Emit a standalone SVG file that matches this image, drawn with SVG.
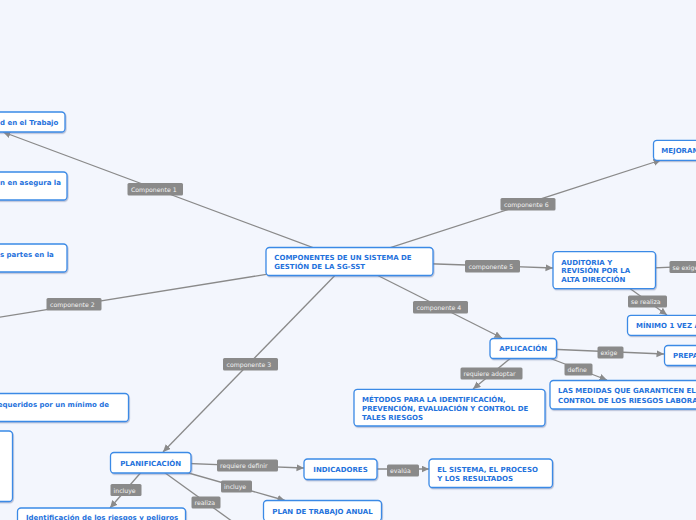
<svg xmlns="http://www.w3.org/2000/svg" width="696" height="520" viewBox="0 0 696 520">
<defs>
<marker id="ah" markerUnits="userSpaceOnUse" markerWidth="8" markerHeight="8" refX="7.5" refY="3.5" orient="auto">
<path d="M0,0 L7.5,3.5 L0,7 z" fill="#8a8a8a"/>
</marker>
<filter id="sh" x="-10%" y="-20%" width="120%" height="150%">
<feDropShadow dx="0.8" dy="1.2" stdDeviation="0.6" flood-color="#6b7fa8" flood-opacity="0.45"/>
</filter>
</defs>
<style>
.bg{fill:#f3f6fd}
.ln{stroke:#8a8a8a;stroke-width:1.3;fill:none}
.ar{marker-end:url(#ah)}
.lb{fill:#8a8a8a}
.lt{font-family:"DejaVu Sans",Verdana,sans-serif;font-size:6.2px;fill:#f2f2f2}
.bx{fill:#ffffff;stroke:#3a8ae6;stroke-width:1.3;filter:url(#sh)}
.tx{font-family:"DejaVu Sans",Verdana,sans-serif;font-size:7px;font-weight:bold;fill:#1f72dc}
</style>
<rect class="bg" x="0" y="0" width="696" height="520"/>
<g id="connectors">
<line class="ln ar" x1="349" y1="261" x2="3" y2="132"/>
<line class="ln" x1="349" y1="261" x2="-5" y2="318"/>
<line class="ln ar" x1="349" y1="261" x2="163" y2="452"/>
<line class="ln ar" x1="349" y1="261" x2="502" y2="338"/>
<line class="ln ar" x1="349" y1="261" x2="553" y2="268"/>
<line class="ln ar" x1="349" y1="261" x2="661" y2="160"/>
<line class="ln" x1="604" y1="270" x2="700" y2="266"/>
<line class="ln ar" x1="604" y1="270" x2="667" y2="315"/>
<line class="ln ar" x1="523" y1="348" x2="664" y2="354"/>
<line class="ln ar" x1="523" y1="348" x2="607" y2="380"/>
<line class="ln ar" x1="523" y1="348" x2="473" y2="389"/>
<line class="ln ar" x1="150" y1="462" x2="304" y2="468"/>
<line class="ln ar" x1="150" y1="462" x2="285" y2="500.5"/>
<line class="ln ar" x1="150" y1="462" x2="110" y2="508"/>
<line class="ln" x1="150" y1="462" x2="240" y2="527"/>
<line class="ln ar" x1="340" y1="469" x2="429" y2="469"/>
<rect class="lb" x="127.5" y="183" width="55.5" height="12.5" rx="1.5"/>
<text class="lt" x="131" y="191.7">Componente 1</text>
<rect class="lb" x="46.5" y="298" width="55" height="12.5" rx="1.5"/>
<text class="lt" x="50" y="306.7">componente 2</text>
<rect class="lb" x="223" y="358" width="55" height="12.5" rx="1.5"/>
<text class="lt" x="226.5" y="366.7">componente 3</text>
<rect class="lb" x="413" y="301" width="55" height="12.5" rx="1.5"/>
<text class="lt" x="416.5" y="309.7">componente 4</text>
<rect class="lb" x="465" y="260" width="55" height="12.5" rx="1.5"/>
<text class="lt" x="468.5" y="268.7">componente 5</text>
<rect class="lb" x="500.5" y="198" width="55" height="12.5" rx="1.5"/>
<text class="lt" x="504" y="206.7">componente 6</text>
<rect class="lb" x="669.5" y="261" width="40" height="12" rx="1.5"/>
<text class="lt" x="672.5" y="269.5">se exige</text>
<rect class="lb" x="628" y="295.5" width="39" height="12" rx="1.5"/>
<text class="lt" x="631" y="304">se realiza</text>
<rect class="lb" x="597.5" y="346.5" width="26" height="12" rx="1.5"/>
<text class="lt" x="600.5" y="355">exige</text>
<rect class="lb" x="564.5" y="363.5" width="28" height="12" rx="1.5"/>
<text class="lt" x="567.5" y="372">define</text>
<rect class="lb" x="460.5" y="367.5" width="62" height="12" rx="1.5"/>
<text class="lt" x="463.5" y="376">requiere adoptar</text>
<rect class="lb" x="217" y="459.5" width="61" height="12" rx="1.5"/>
<text class="lt" x="220" y="468">requiere definir</text>
<rect class="lb" x="221" y="480.5" width="31" height="12" rx="1.5"/>
<text class="lt" x="224" y="489">incluye</text>
<rect class="lb" x="191.5" y="496.5" width="29" height="12" rx="1.5"/>
<text class="lt" x="194.5" y="505">realiza</text>
<rect class="lb" x="110.5" y="484" width="31" height="12" rx="1.5"/>
<text class="lt" x="113.5" y="492.5">incluye</text>
<rect class="lb" x="387" y="464.5" width="32" height="12" rx="1.5"/>
<text class="lt" x="390" y="473">evalúa</text>
</g>
<g id="n-central">
<rect class="bx" x="266" y="247.5" width="167" height="28" rx="3.5"/>
<text class="tx" x="274.3" y="260">COMPONENTES DE UN SISTEMA DE</text>
<text class="tx" x="274.3" y="269.3">GESTIÓN DE LA SG-SST</text>
</g>
<g id="n-c1">
<rect class="bx" x="-10" y="112" width="75" height="20" rx="3.5"/>
<text class="tx" x="0" y="124.8">d en el Trabajo</text>
</g>
<g id="n-c1b">
<rect class="bx" x="-10" y="172" width="77" height="28" rx="3.5"/>
<text class="tx" x="0" y="184.5">n en asegura la</text>
</g>
<g id="n-c2a">
<rect class="bx" x="-10" y="244" width="77" height="28" rx="3.5"/>
<text class="tx" x="0" y="256.8">s partes en la</text>
</g>
<g id="n-c2b">
<rect class="bx" x="-10" y="393.5" width="138.5" height="28" rx="3.5"/>
<text class="tx" x="109" y="406.5" text-anchor="end">requeridos por un mínimo de</text>
</g>
<g id="n-c2c">
<rect class="bx" x="-10" y="431" width="22.5" height="70.5" rx="3.5"/>
</g>
<g id="n-planificacion">
<rect class="bx" x="110.5" y="452.5" width="80.5" height="20.5" rx="3.5"/>
<text class="tx" x="150.7" y="465.5" text-anchor="middle">PLANIFICACIÓN</text>
</g>
<g id="n-identificacion">
<rect class="bx" x="17.5" y="508" width="168" height="24" rx="3.5"/>
<text class="tx" x="26" y="520">Identificación de los riesgos y peligros</text>
</g>
<g id="n-indicadores">
<rect class="bx" x="304" y="459" width="73" height="20.5" rx="3.5"/>
<text class="tx" x="340.5" y="472" text-anchor="middle">INDICADORES</text>
</g>
<g id="n-plan">
<rect class="bx" x="263.5" y="500.5" width="118" height="20.5" rx="3.5"/>
<text class="tx" x="322.5" y="513.5" text-anchor="middle">PLAN DE TRABAJO ANUAL</text>
</g>
<g id="n-sistema">
<rect class="bx" x="429" y="459" width="123.5" height="28.5" rx="3.5"/>
<text class="tx" x="437.3" y="471.5">EL SISTEMA, EL PROCESO</text>
<text class="tx" x="437.3" y="480.8">Y LOS RESULTADOS</text>
</g>
<g id="n-aplicacion">
<rect class="bx" x="490" y="338.5" width="66.5" height="20" rx="3.5"/>
<text class="tx" x="523.2" y="351.3" text-anchor="middle">APLICACIÓN</text>
</g>
<g id="n-metodos">
<rect class="bx" x="354" y="389.3" width="191" height="36.7" rx="3.5"/>
<text class="tx" x="362" y="402.3">MÉTODOS PARA LA IDENTIFICACIÓN,</text>
<text class="tx" x="362" y="411.3">PREVENCIÓN, EVALUACIÓN Y CONTROL DE</text>
<text class="tx" x="362" y="420.3">TALES RIESGOS</text>
</g>
<g id="n-medidas">
<rect class="bx" x="550" y="380.5" width="160" height="28.5" rx="3.5"/>
<text class="tx" x="558" y="393.3">LAS MEDIDAS QUE GARANTICEN EL</text>
<text class="tx" x="558" y="402.5">CONTROL DE LOS RIESGOS LABORALES</text>
</g>
<g id="n-prepa">
<rect class="bx" x="664.5" y="345.5" width="60" height="20" rx="3.5"/>
<text class="tx" x="673" y="358.3">PREPARACIÓN</text>
</g>
<g id="n-minimo">
<rect class="bx" x="627.5" y="315.3" width="90" height="20" rx="3.5"/>
<text class="tx" x="636" y="328.2">MÍNIMO 1 VEZ AL AÑO</text>
</g>
<g id="n-auditoria">
<rect class="bx" x="553" y="251.7" width="102.5" height="37" rx="3.5"/>
<text class="tx" x="561.3" y="264.5">AUDITORIA Y</text>
<text class="tx" x="561.3" y="273">REVISIÓN POR LA</text>
<text class="tx" x="561.3" y="281.5">ALTA DIRECCIÓN</text>
</g>
<g id="n-mejoramiento">
<rect class="bx" x="653.5" y="140.3" width="80" height="20" rx="3.5"/>
<text class="tx" x="661.3" y="153">MEJORAMIENTO</text>
</g>
</svg>
